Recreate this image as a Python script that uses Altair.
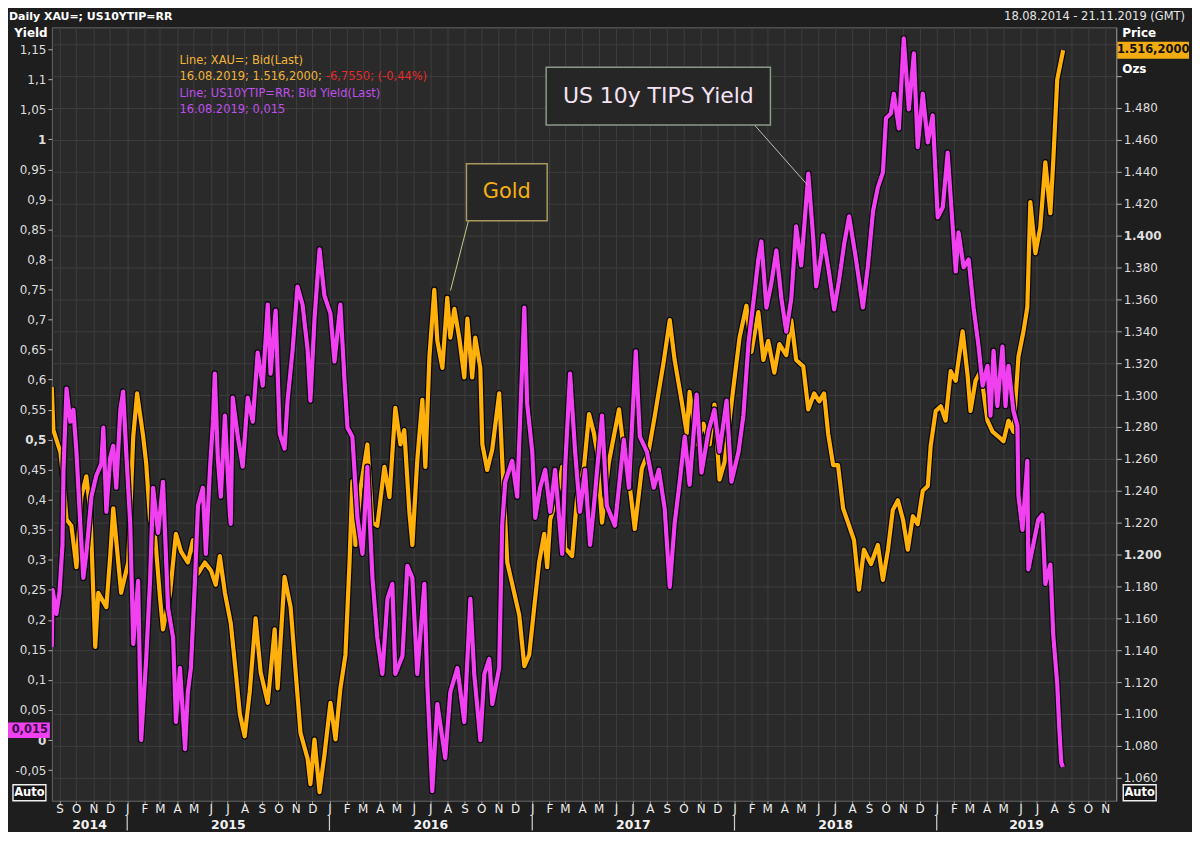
import altair as alt
import pandas as pd

# ---------------- data ----------------
# dates as decimal years, gold price in USD/oz
gold_t = [2014.627, 2014.635, 2014.670, 2014.685, 2014.700, 2014.724, 2014.749, 2014.773, 2014.798, 2014.818,
          2014.842, 2014.857, 2014.897, 2014.916, 2014.931, 2014.956, 2014.970, 2015.005, 2015.030, 2015.049,
          2015.079, 2015.094, 2015.113, 2015.138, 2015.163, 2015.177, 2015.212, 2015.241, 2015.266, 2015.300,
          2015.325, 2015.350, 2015.384, 2015.414, 2015.438, 2015.458, 2015.483, 2015.512, 2015.537, 2015.557,
          2015.581, 2015.606, 2015.635, 2015.660, 2015.695, 2015.729, 2015.744, 2015.778, 2015.808, 2015.833,
          2015.857, 2015.892, 2015.906, 2015.926, 2015.951, 2015.975, 2016.005, 2016.030, 2016.054, 2016.079,
          2016.099, 2016.113, 2016.128, 2016.153, 2016.187, 2016.212, 2016.236, 2016.271, 2016.296, 2016.325,
          2016.350, 2016.369, 2016.394, 2016.409, 2016.433, 2016.458, 2016.473, 2016.493, 2016.517, 2016.532,
          2016.557, 2016.581, 2016.596, 2016.616, 2016.640, 2016.665, 2016.680, 2016.704, 2016.719, 2016.744,
          2016.754, 2016.778, 2016.803, 2016.837, 2016.852, 2016.877, 2016.911, 2016.936, 2016.961, 2016.985,
          2017.010, 2017.034, 2017.059, 2017.074, 2017.089, 2017.123, 2017.148, 2017.163, 2017.197, 2017.222,
          2017.256, 2017.281, 2017.305, 2017.320, 2017.345, 2017.379, 2017.429, 2017.453, 2017.483, 2017.507,
          2017.542, 2017.576, 2017.606, 2017.650, 2017.680, 2017.704, 2017.739, 2017.764, 2017.778, 2017.813,
          2017.847, 2017.877, 2017.901, 2017.926, 2017.951, 2017.995, 2018.025, 2018.059, 2018.084, 2018.118,
          2018.143, 2018.167, 2018.197, 2018.222, 2018.256, 2018.281, 2018.305, 2018.340, 2018.365, 2018.394,
          2018.419, 2018.443, 2018.463, 2018.488, 2018.512, 2018.537, 2018.567, 2018.591, 2018.616, 2018.640,
          2018.675, 2018.709, 2018.734, 2018.759, 2018.783, 2018.808, 2018.833, 2018.857, 2018.882, 2018.906,
          2018.931, 2018.956, 2018.970, 2018.995, 2019.020, 2019.044, 2019.069, 2019.094, 2019.128, 2019.153,
          2019.167, 2019.192, 2019.217, 2019.251, 2019.276, 2019.305, 2019.330, 2019.355, 2019.379, 2019.404,
          2019.429, 2019.448, 2019.463, 2019.488, 2019.512, 2019.537, 2019.562, 2019.576, 2019.596, 2019.625]
gold_v = [1305, 1278, 1264, 1246, 1222, 1218, 1192, 1236, 1249, 1227,
          1142, 1176, 1167, 1199, 1229, 1195, 1176, 1195, 1274, 1301,
          1274, 1257, 1222, 1211, 1172, 1153, 1176, 1213, 1202, 1195,
          1209, 1188, 1195, 1190, 1181, 1199, 1176, 1157, 1126, 1100,
          1086, 1114, 1160, 1126, 1107, 1153, 1116, 1186, 1167, 1126,
          1088, 1072, 1056, 1084, 1051, 1074, 1107, 1084, 1116, 1137,
          1195, 1246, 1206, 1241, 1269, 1220, 1218, 1255, 1236, 1292,
          1269, 1278, 1227, 1206, 1259, 1297, 1255, 1324, 1366, 1334,
          1317, 1361, 1336, 1354, 1336, 1311, 1348, 1311, 1336, 1317,
          1269, 1253, 1266, 1301, 1259, 1195, 1176, 1162, 1130, 1137,
          1167, 1195, 1213, 1192, 1222, 1236, 1255, 1204, 1199, 1236,
          1255, 1288, 1276, 1265, 1220, 1258, 1291, 1265, 1242, 1216,
          1254, 1265, 1287, 1321, 1347, 1322, 1296, 1276, 1302, 1269,
          1282, 1269, 1294, 1247, 1258, 1305, 1336, 1356, 1327, 1352,
          1322, 1334, 1314, 1332, 1325, 1347, 1322, 1318, 1291, 1301,
          1296, 1301, 1276, 1256, 1256, 1229, 1218, 1209, 1178, 1203,
          1194, 1206, 1184, 1203, 1228, 1234, 1222, 1203, 1224, 1219,
          1240, 1243, 1268, 1290, 1293, 1284, 1315, 1309, 1340, 1312,
          1290, 1309, 1315, 1284, 1277, 1274, 1271, 1284, 1277, 1324,
          1340, 1355, 1421, 1389, 1405, 1446, 1414, 1446, 1498, 1516.2]

# US 10y TIPS yield, %
tips_t = [2014.627, 2014.631, 2014.650, 2014.665, 2014.680, 2014.685, 2014.700, 2014.719, 2014.734, 2014.749,
          2014.768, 2014.783, 2014.798, 2014.823, 2014.847, 2014.872, 2014.882, 2014.897, 2014.916, 2014.931,
          2014.946, 2014.966, 2014.980, 2014.995, 2015.015, 2015.030, 2015.054, 2015.069, 2015.094, 2015.113,
          2015.128, 2015.153, 2015.177, 2015.202, 2015.227, 2015.241, 2015.261, 2015.286, 2015.300, 2015.315,
          2015.335, 2015.350, 2015.374, 2015.389, 2015.409, 2015.424, 2015.433, 2015.448, 2015.463, 2015.483,
          2015.507, 2015.512, 2015.522, 2015.547, 2015.571, 2015.596, 2015.621, 2015.645, 2015.670, 2015.695,
          2015.709, 2015.734, 2015.754, 2015.778, 2015.793, 2015.818, 2015.842, 2015.867, 2015.892, 2015.906,
          2015.926, 2015.951, 2015.975, 2016.005, 2016.025, 2016.054, 2016.074, 2016.089, 2016.113, 2016.138,
          2016.163, 2016.187, 2016.212, 2016.236, 2016.261, 2016.286, 2016.310, 2016.325, 2016.360, 2016.384,
          2016.409, 2016.433, 2016.468, 2016.483, 2016.507, 2016.532, 2016.571, 2016.596, 2016.631, 2016.665,
          2016.695, 2016.714, 2016.744, 2016.764, 2016.788, 2016.803, 2016.837, 2016.852, 2016.867, 2016.901,
          2016.926, 2016.961, 2016.975, 2017.000, 2017.015, 2017.039, 2017.064, 2017.089, 2017.113, 2017.148,
          2017.163, 2017.187, 2017.212, 2017.236, 2017.261, 2017.286, 2017.305, 2017.345, 2017.369, 2017.409,
          2017.453, 2017.478, 2017.512, 2017.532, 2017.567, 2017.601, 2017.626, 2017.655, 2017.680, 2017.704,
          2017.729, 2017.754, 2017.778, 2017.813, 2017.837, 2017.872, 2017.901, 2017.926, 2017.961, 2017.985,
          2018.020, 2018.044, 2018.069, 2018.094, 2018.118, 2018.133, 2018.158, 2018.182, 2018.207, 2018.232,
          2018.256, 2018.281, 2018.305, 2018.330, 2018.365, 2018.389, 2018.404, 2018.429, 2018.438, 2018.468,
          2018.493, 2018.517, 2018.542, 2018.567, 2018.601, 2018.635, 2018.660, 2018.685, 2018.709, 2018.734,
          2018.749, 2018.773, 2018.788, 2018.813, 2018.837, 2018.862, 2018.887, 2018.906, 2018.931, 2018.956,
          2018.980, 2019.005, 2019.030, 2019.054, 2019.079, 2019.094, 2019.108, 2019.133, 2019.158, 2019.182,
          2019.207, 2019.227, 2019.251, 2019.266, 2019.281, 2019.300, 2019.325, 2019.340, 2019.355, 2019.379,
          2019.399, 2019.404, 2019.424, 2019.448, 2019.453, 2019.478, 2019.502, 2019.522, 2019.537, 2019.562,
          2019.576, 2019.596, 2019.606, 2019.616, 2019.624]
tips_v = [0.155, 0.25, 0.21, 0.245, 0.325, 0.45, 0.585, 0.53, 0.55, 0.48,
          0.36, 0.27, 0.31, 0.405, 0.44, 0.46, 0.52, 0.38, 0.47, 0.49,
          0.42, 0.55, 0.58, 0.48, 0.36, 0.16, 0.265, 0.0, 0.135, 0.265,
          0.42, 0.345, 0.43, 0.22, 0.17, 0.03, 0.12, -0.015, 0.08, 0.12,
          0.265, 0.39, 0.42, 0.31, 0.45, 0.53, 0.61, 0.47, 0.405, 0.54,
          0.38, 0.36, 0.57, 0.505, 0.455, 0.57, 0.53, 0.645, 0.59, 0.725,
          0.61, 0.715, 0.51, 0.485, 0.565, 0.65, 0.755, 0.725, 0.65, 0.565,
          0.70, 0.817, 0.74, 0.71, 0.63, 0.725, 0.60, 0.52, 0.505, 0.37,
          0.31, 0.455, 0.27, 0.17, 0.11, 0.235, 0.26, 0.11, 0.14, 0.29,
          0.27, 0.11, 0.26, 0.09, -0.085, 0.06, -0.03, 0.08, 0.12, 0.03,
          0.235, 0.11, 0.0, 0.11, 0.135, 0.06, 0.12, 0.36, 0.43, 0.465,
          0.405, 0.72, 0.56, 0.48, 0.37, 0.42, 0.45, 0.38, 0.45, 0.31,
          0.455, 0.61, 0.48, 0.38, 0.45, 0.325, 0.39, 0.54, 0.39, 0.357,
          0.50, 0.42, 0.647, 0.505, 0.48, 0.42, 0.45, 0.385, 0.255, 0.36,
          0.43, 0.505, 0.425, 0.575, 0.445, 0.515, 0.55, 0.48, 0.565, 0.43,
          0.48, 0.54, 0.66, 0.73, 0.80, 0.83, 0.72, 0.76, 0.815, 0.735,
          0.68, 0.735, 0.855, 0.79, 0.943, 0.837, 0.755, 0.807, 0.84, 0.777,
          0.717, 0.765, 0.825, 0.872, 0.80, 0.72, 0.79, 0.88, 0.92, 0.945,
          1.035, 1.043, 1.076, 1.018, 1.168, 1.05, 1.143, 0.987, 1.076, 0.995,
          1.04, 0.87, 0.887, 0.978, 0.854, 0.78, 0.845, 0.787, 0.80, 0.72,
          0.655, 0.59, 0.623, 0.54, 0.648, 0.556, 0.655, 0.556, 0.623, 0.548,
          0.523, 0.407, 0.35, 0.465, 0.284, 0.326, 0.367, 0.375, 0.26, 0.292,
          0.176, 0.093, 0.02, -0.038, -0.045]

yield_ticks = [-0.05, 0.0, 0.05, 0.1, 0.15, 0.2, 0.25, 0.3, 0.35, 0.4, 0.45, 0.5, 0.55, 0.6,
               0.65, 0.7, 0.75, 0.8, 0.85, 0.9, 0.95, 1.0, 1.05, 1.1, 1.15]
price_ticks = [1060, 1080, 1100, 1120, 1140, 1160, 1180, 1200, 1220, 1240, 1260, 1280, 1300,
               1320, 1340, 1360, 1380, 1400, 1420, 1440, 1460, 1480, 1500, 1520]
years = [2014, 2015, 2016, 2017, 2018, 2019]

# ---------------- build ----------------
W, H = 1068, 776
FONT = "DejaVu Sans"
GOLD = "#FFB00A"
MAG = "#F040F0"
GRID = "#3e3e3e"


def dec_to_ts(t):
    y = int(t)
    a = pd.Timestamp(year=y, month=1, day=1)
    b = pd.Timestamp(year=y + 1, month=1, day=1)
    return (a + (b - a) * (t - y)).floor("h")


gold_df = pd.DataFrame({"date": [dec_to_ts(t) for t in gold_t], "price": gold_v})
tips_df = pd.DataFrame({"date": [dec_to_ts(t) for t in tips_t], "yield": tips_v})

x_domain = [alt.DateTime(year=2014, month=8, date=18), alt.DateTime(year=2019, month=11, date=21)]
month_vals = [alt.DateTime(year=y, month=m, date=1)
              for y in range(2014, 2020) for m in range(1, 13)
              if (2014, 9) <= (y, m) <= (2019, 11)]


def xscale():
    return alt.Scale(domain=x_domain)


def x_axis():
    return alt.Axis(values=month_vals, title=None,
                    labelExpr="substring(timeFormat(datum.value, '%b'), 0, 1)",
                    grid=True, gridColor=GRID, gridWidth=1, tickSize=3, tickColor="#a0a0a0",
                    domain=False, labelColor="#efefef", labelFont=FONT, labelFontSize=12,
                    labelPadding=0, labelAngle=0, labelFlush=False, labelOverlap=False)


def price_y():
    return alt.Y("price:Q", scale=alt.Scale(domain=[1045.6, 1530.6], nice=False, zero=False),
                 axis=alt.Axis(orient="right", values=price_ticks, title=None,
                               labelExpr="datum.value > 1490 ? '' : format(datum.value / 1000, '.3f')",
                               grid=True, gridColor=GRID, gridWidth=1, tickSize=5, tickColor="#b0b0b0",
                               domain=True, domainColor="#8a8a8a", labelColor="#dedede", labelFont=FONT,
                               labelFontSize=12, labelPadding=2,
                               labelFontWeight={"condition": {"test": "datum.value == 1200 || datum.value == 1400",
                                                              "value": "bold"}, "value": "normal"}))


def yield_y():
    return alt.Y("yield:Q", scale=alt.Scale(domain=[-0.101, 1.1865], nice=False, zero=False),
                 axis=alt.Axis(orient="left", values=yield_ticks, title=None, grid=False,
                               labelExpr="replace(replace(format(datum.value, '.2~f'), '.', ','), '\u2212', '-')",
                               tickSize=4, tickColor="#b0b0b0", domain=False, labelColor="#dedede",
                               labelFont=FONT, labelFontSize=12, labelPadding=2,
                               labelFontWeight={"condition": {"test": "datum.value == 0 || datum.value == 0.5 || datum.value == 1",
                                                              "value": "bold"}, "value": "normal"}))


def xdate(field):
    return alt.X(field, scale=xscale(), axis=x_axis())


gold_shadow = alt.Chart(gold_df).mark_line(color="#06060b", strokeWidth=6.6, strokeJoin="round", clip=True).encode(
    x=xdate("date:T"), y=price_y())
gold_line = alt.Chart(gold_df).mark_line(color=GOLD, strokeWidth=4.2, strokeJoin="round", clip=True).encode(
    x=xdate("date:T"), y=price_y())
gold_layer = alt.layer(gold_shadow, gold_line)

tips_shadow = alt.Chart(tips_df).mark_line(color="#06060b", strokeWidth=6.6, strokeJoin="round", clip=True).encode(
    x=xdate("date:T"), y=yield_y())
tips_line = alt.Chart(tips_df).mark_line(color=MAG, strokeWidth=4.2, strokeJoin="round", clip=True).encode(
    x=xdate("date:T"), y=yield_y())
tips_layer = alt.layer(tips_shadow, tips_line)

# year row under the month letters
d0, d1 = pd.Timestamp("2014-08-18"), pd.Timestamp("2019-11-21")
mids = []
for y in years:
    a = max(pd.Timestamp(year=y, month=1, day=1), d0)
    b = min(pd.Timestamp(year=y + 1, month=1, day=1), d1)
    mids.append(a + (b - a) / 2)
year_df = pd.DataFrame({"date": mids, "label": [str(y) for y in years]})
jan_df = pd.DataFrame({"date": [pd.Timestamp(year=y, month=1, day=1) for y in years[1:]]})

year_text = alt.Chart(year_df).mark_text(font=FONT, fontSize=12.5, fontWeight="bold", color="#f2f2f2",
                                         baseline="middle", align="center").encode(
    x=xdate("date:T"), y=alt.value(H + 24), text="label:N")
jan_rules = alt.Chart(jan_df).mark_rule(color="#d0d0d0", strokeWidth=1.2).encode(
    x=xdate("date:T"), y=alt.value(H + 15), y2=alt.value(H + 30))

one = pd.DataFrame({"k": [0]})


def txt(s, x, y, color, size=12, weight="normal", align="left"):
    return alt.Chart(one).mark_text(text=s, color=color, fontSize=size, fontWeight=weight, align=align,
                                    baseline="middle", font=FONT).encode(x=alt.value(x), y=alt.value(y))


def box(x1, x2, y1, y2, fill, stroke=None, sw=1.0):
    kw = {"fill": fill}
    if stroke:
        kw.update(stroke=stroke, strokeWidth=sw)
    return alt.Chart(one).mark_rect(**kw).encode(x=alt.value(x1), x2=alt.value(x2),
                                                 y=alt.value(y1), y2=alt.value(y2))


def seg(x1, y1, x2, y2, color, w=1.0):
    return alt.Chart(one).mark_rule(color=color, strokeWidth=w).encode(
        x=alt.value(x1), x2=alt.value(x2), y=alt.value(y1), y2=alt.value(y2))


decos = [
    # header
    txt("Daily XAU=; US10YTIP=RR", -43, -10, "#ffffff", 11, "bold"),
    txt("18.08.2014 - 21.11.2019 (GMT)", 1137, -10, "#e6e6e6", 11.5, align="right"),
    txt("Yield", -21, 6, "#ffffff", 12, "bold", "center"),
    txt("Price", 1074, 6, "#ffffff", 12, "bold"),
    box(1069, 1141, 14.5, 31.5, "#F2AC12"),
    txt("1.516,2000", 1105, 23, "#111111", 11.5, "bold", "center"),
    txt("Ozs", 1074, 42, "#ffffff", 12, "bold"),
    box(-44, -2, 697.5, 713, MAG),
    txt("0,015", -4, 705.5, "#3a0a4a", 11.5, "bold", "right"),
    # Auto buttons
    box(-39, -6, 760, 776, "#151515", "#f0f0f0", 1.4),
    txt("Auto", -22.5, 768, "#ffffff", 11.5, "bold", "center"),
    box(1075, 1108, 760, 776, "#151515", "#f0f0f0", 1.4),
    txt("Auto", 1091.5, 768, "#ffffff", 11.5, "bold", "center"),
    # legend text
    txt("Line; XAU=; Bid(Last)", 128, 34, "#F2B43A", 11.5),
    txt("16.08.2019; 1.516,2000; ", 128, 50, "#F2B43A", 11.5),
    txt("-6,7550; (-0,44%)", 275, 50, "#E52B2B", 11.5),
    txt("Line; US10YTIP=RR; Bid Yield(Last)", 128, 67, "#BE50EC", 11.5),
    txt("16.08.2019; 0,015", 128, 83, "#BE50EC", 11.5),
    # annotations
    seg(418, 194, 400, 264, "#c9c98a", 1),
    box(416, 497, 137, 194, "#262626", "#a89a5c", 1.5),
    txt("Gold", 456.5, 165.5, "#F5B014", 21, "normal", "center"),
    seg(705, 98, 758, 158, "#b8c2b8", 1),
    box(496, 721, 40, 98, "#262626", "#8a9a8a", 1.5),
    txt("US 10y TIPS Yield", 608.5, 69, "#F4E2F4", 22, "normal", "center"),
]

chart = alt.layer(gold_layer, tips_layer, year_text, jan_rules, *decos).resolve_scale(
    y="independent"
).properties(
    width=W, height=H,
    autosize=alt.AutoSizeParams(type="none"),
    padding={"left": 44, "top": 18, "right": 76, "bottom": 30},
    background="#1e1e1e",
).configure_view(fill="#2a2a2a", stroke="#666666", strokeWidth=1)

chart.save("out.html", embed_options={"renderer": "svg", "actions": False})
